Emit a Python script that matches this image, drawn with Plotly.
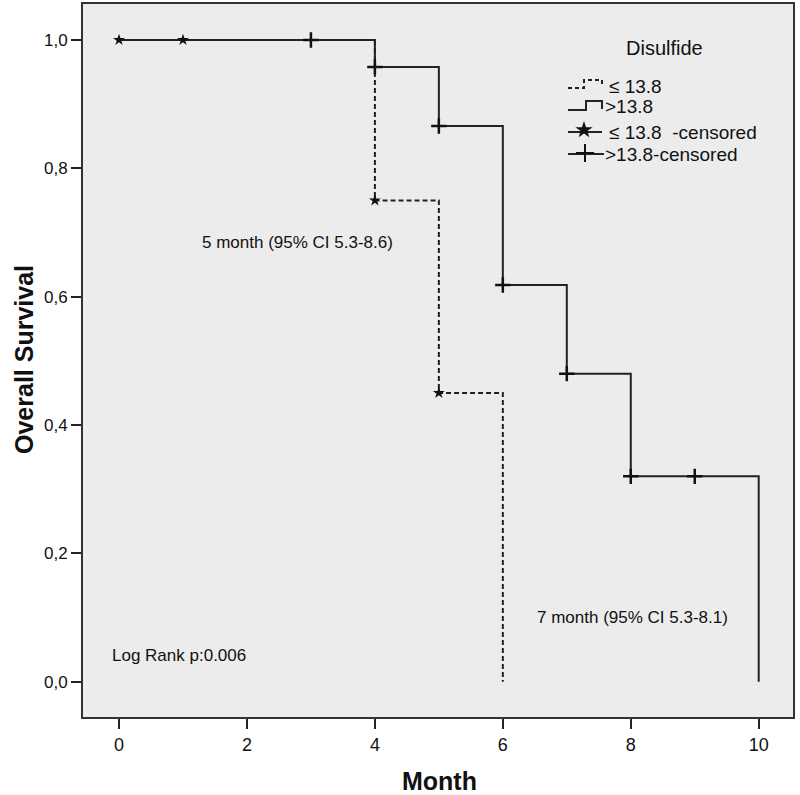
import plotly.graph_objects as go

# ---- data ----
times_low = [0, 4, 5, 6]
surv_low = [1.0, 0.75, 0.45, 0.0]
cens_low_t = [0, 1, 4, 5]
cens_low_s = [1.0, 1.0, 0.75, 0.45]

times_high = [0, 4, 5, 6, 7, 8, 10]
surv_high = [1.0, 0.958, 0.866, 0.618, 0.48, 0.32, 0.0]
cens_high_t = [3, 4, 5, 6, 7, 8, 9]
cens_high_s = [1.0, 0.958, 0.866, 0.618, 0.48, 0.32, 0.32]

x_ticks = [0, 2, 4, 6, 8, 10]
y_ticks = [0.0, 0.2, 0.4, 0.6, 0.8, 1.0]
y_ticklabels = ["0,0", "0,2", "0,4", "0,6", "0,8", "1,0"]

legend_title = "Disulfide"
legend_labels = ["\u2264 13.8", ">13.8", "\u2264 13.8  -censored", ">13.8-censored"]
note_low = "5 month (95% CI 5.3-8.6)"
note_high = "7 month (95% CI 5.3-8.1)"
note_p = "Log Rank p:0.006"
x_title = "Month"
y_title = "Overall Survival"

FONT = "Liberation Sans, Arial, sans-serif"
W, H = 800, 795
L, R, T, B = 83, 7, 4, 78
XR = [-0.563, 10.536]
YR = [-0.055, 1.056]


def px2x(px):
    return XR[0] + (px - L) / (W - L - R) * (XR[1] - XR[0])


def px2y(py):
    return YR[1] - (py - T) / (H - T - B) * (YR[1] - YR[0])


def pxp(px):
    return (px - L) / (W - L - R)


def pyp(py):
    return (H - B - py) / (H - T - B)


fig = go.Figure()
fig.add_trace(go.Scatter(x=times_low, y=surv_low, mode="lines", line_shape="hv",
                         line=dict(color="#222", width=2, dash="5px,3px"), showlegend=False))
fig.add_trace(go.Scatter(x=times_high, y=surv_high, mode="lines", line_shape="hv",
                         line=dict(color="#222", width=2), showlegend=False))
fig.add_trace(go.Scatter(x=cens_low_t, y=cens_low_s, mode="markers",
                         marker=dict(symbol="star", size=9, color="#111", line=dict(width=0)),
                         showlegend=False))
fig.add_trace(go.Scatter(x=cens_high_t, y=cens_high_s, mode="markers",
                         marker=dict(symbol="cross-thin", size=11, line=dict(width=2.5, color="#111")),
                         showlegend=False))

# ---- custom legend ----
legend_rows_y = [86, 106, 132, 154]
fig.add_trace(go.Scatter(x=[px2x(p) for p in [568, 584, 584, 602, 602]],
                         y=[px2y(p) for p in [88, 88, 80, 80, 86]], mode="lines",
                         line=dict(color="#222", width=2, dash="4px,3px"), showlegend=False,
                         hoverinfo="skip"))
fig.add_trace(go.Scatter(x=[px2x(p) for p in [568, 586, 586, 602, 602]],
                         y=[px2y(p) for p in [110, 110, 101, 101, 109]], mode="lines",
                         line=dict(color="#222", width=2), showlegend=False, hoverinfo="skip"))
fig.add_trace(go.Scatter(x=[px2x(568), px2x(602)], y=[px2y(132), px2y(132)], mode="lines",
                         line=dict(color="#222", width=2), showlegend=False, hoverinfo="skip"))
fig.add_trace(go.Scatter(x=[px2x(584)], y=[px2y(130)], mode="markers",
                         marker=dict(symbol="star", size=13, color="#111"), showlegend=False,
                         hoverinfo="skip"))
fig.add_trace(go.Scatter(x=[px2x(568), px2x(604)], y=[px2y(154), px2y(154)], mode="lines",
                         line=dict(color="#222", width=2), showlegend=False, hoverinfo="skip"))
fig.add_trace(go.Scatter(x=[px2x(585)], y=[px2y(153)], mode="markers",
                         marker=dict(symbol="cross-thin", size=13, line=dict(width=2, color="#111")),
                         showlegend=False, hoverinfo="skip"))

ann = []
ann.append(dict(x=px2x(664), y=px2y(48), text=legend_title, showarrow=False,
                font=dict(size=20, color="#111", family=FONT), xanchor="center", yanchor="middle"))
label_x = [607, 603, 607, 603]
for lab, lx, ly in zip(legend_labels, label_x, legend_rows_y):
    ann.append(dict(x=px2x(lx), y=px2y(ly), text=lab, showarrow=False, xanchor="left",
                    yanchor="middle", font=dict(size=19, color="#111", family=FONT)))

ann.append(dict(x=px2x(297), y=px2y(242), text=note_low, showarrow=False, xanchor="center",
                yanchor="middle", font=dict(size=17, color="#111", family=FONT)))
ann.append(dict(x=px2x(632), y=px2y(617), text=note_high, showarrow=False, xanchor="center",
                yanchor="middle", font=dict(size=17, color="#111", family=FONT)))
ann.append(dict(x=px2x(110), y=px2y(655), text=note_p, showarrow=False, xanchor="left",
                yanchor="middle", font=dict(size=17, color="#111", family=FONT)))

# axis titles
ann.append(dict(xref="paper", yref="paper", x=pxp(439), y=pyp(781), text="<b>" + x_title + "</b>",
                showarrow=False, xanchor="center", yanchor="middle",
                font=dict(size=25, color="#111", family=FONT)))
ann.append(dict(xref="paper", yref="paper", x=pxp(24), y=pyp(360), text="<b>" + y_title + "</b>",
                showarrow=False, xanchor="center", yanchor="middle", textangle=-90,
                font=dict(size=25, color="#111", family=FONT)))

fig.update_layout(
    width=W, height=H,
    margin=dict(l=L, r=R, t=T, b=B),
    paper_bgcolor="white",
    plot_bgcolor="#ececec",
    annotations=ann,
    showlegend=False,
    hovermode=False,
    xaxis=dict(range=XR, tickvals=x_ticks, ticks="outside", ticklen=10, tickwidth=2,
               tickcolor="#222", showgrid=False, zeroline=False, showline=True, mirror=True,
               linecolor="#333", linewidth=2, automargin=False,
               tickfont=dict(size=18, color="#111", family=FONT)),
    yaxis=dict(range=YR, tickvals=y_ticks, ticktext=y_ticklabels, ticks="outside", ticklen=10,
               tickwidth=2, tickcolor="#222", showgrid=False, zeroline=False, showline=True,
               mirror=True, linecolor="#333", linewidth=2, automargin=False,
               tickfont=dict(size=17, color="#111", family=FONT)),
)

fig.write_html("out.html", config={"displayModeBar": False},
               post_script="document.body.style.margin='0';")
